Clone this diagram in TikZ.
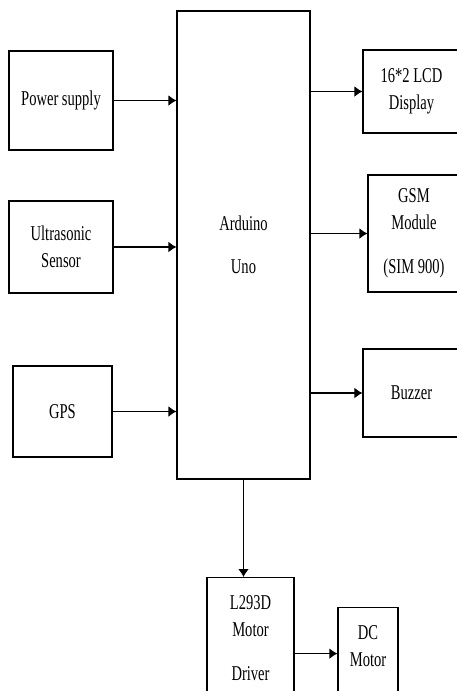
\documentclass[tikz,border=0pt]{standalone}
\usepackage{fontspec}
\setmainfont[FakeStretch=0.69]{Liberation Serif}
\usetikzlibrary{arrows.meta,positioning}

\begin{document}
\begin{tikzpicture}[x=0.02cm,y=-0.02cm,>={Latex[length=4.5pt,width=6pt]},
  every node/.style={font=\fontsize{12}{15.3}\selectfont},
  box/.style={draw,line width=0.7pt,align=center,inner sep=0pt},
  link/.style={->,line width=0.6pt}]
\useasboundingbox (0,0) rectangle (457,691);
\clip (0,0) rectangle (457,691);
\node[box,minimum width=2.08cm,minimum height=1.98cm] (power) at (61,100.5) {Power supply};
\node[box,minimum width=2.08cm,minimum height=1.84cm] (ultra) at (61,247) {Ultrasonic\\Sensor};
\node[box,minimum width=1.98cm,minimum height=1.82cm] (gps) at (62.5,411.5) {GPS};
\node[box,minimum width=2.66cm,minimum height=9.36cm] (arduino) at (243.5,245) {Arduino\\[9pt]Uno};
\node[box,minimum width=1.94cm,minimum height=1.66cm] (lcd) at (411.5,91.5) {16*2 LCD\\Display};
\node[box,minimum width=1.84cm,minimum height=2.34cm] (gsm) at (414,233.5) {GSM\\Module\\[9.7pt](SIM 900)};
\node[box,minimum width=1.94cm,minimum height=1.76cm] (buzzer) at (411.5,393) {Buzzer};
\node[box,anchor=north,minimum width=1.74cm,minimum height=2.6cm] (driver) at (250.5,577) {};
\node[box,anchor=north,minimum width=1.2cm,minimum height=1.84cm] (dcmotor) at (368,607) {};
\node[align=center,anchor=north,inner sep=0pt] (drivertext) at ([yshift=-0.36cm]driver.north) {L293D\\Motor\\[10pt]Driver};
\node[align=center,anchor=north,inner sep=0pt] (dctext) at ([yshift=-0.36cm]dcmotor.north) {DC\\Motor};
% inputs
\draw[link] (power.east) -- (power -| arduino.west);
\draw[link] (ultra.east) -- (ultra -| arduino.west);
\draw[link] (gps.east) -- (gps -| arduino.west);
% outputs
\draw[link] (arduino.east |- lcd) -- (lcd.west);
\draw[link] (arduino.east |- gsm) -- (gsm.west);
\draw[link] (arduino.east |- buzzer) -- (buzzer.west);
\draw[link] (arduino.south) -- (arduino.south |- driver.north);
\draw[link] (driver.east |- dcmotor) -- (dcmotor.west);
\end{tikzpicture}
\end{document}
